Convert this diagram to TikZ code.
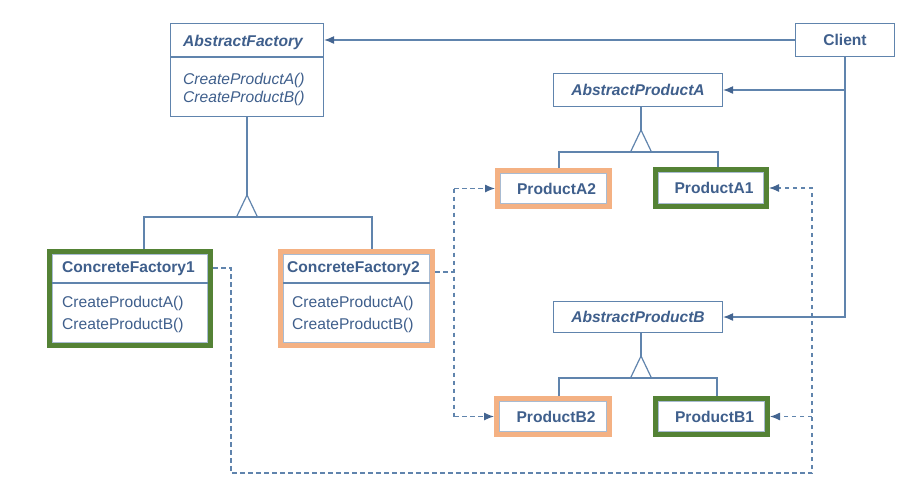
\documentclass[tikz,border=0pt]{standalone}
\usepackage{fontspec}
\setmainfont{Liberation Sans}
\usetikzlibrary{arrows.meta,calc}
\definecolor{lb}{HTML}{6084AD}
\definecolor{tb}{HTML}{3F5F8C}
\definecolor{gr}{HTML}{548235}
\definecolor{og}{HTML}{F4B183}
\newcommand\dfsz{\fontsize{15.6}{18}\selectfont}
\tikzset{
 ln/.style={draw=lb, line width=1.2pt},
 inln/.style={draw=lb!55, line width=0.9pt},
 dsh/.style={draw=lb, line width=1.2pt, dash pattern=on 4.5pt off 3.5pt},
 tip/.style={-{Latex[length=10pt,width=8pt,color=tb!85!lb]}},
 box/.style={draw=lb, line width=1.2pt, inner sep=0pt, text=tb, font=\dfsz\bfseries},
 gbox/.style={draw=gr, line width=5pt, inner sep=0pt, text=tb, font=\dfsz\bfseries},
 obox/.style={draw=og, line width=5pt, inner sep=0pt, text=tb, font=\dfsz\bfseries},
 txt/.style={text=tb, font=\dfsz, inner sep=0pt, anchor=west},
 btxt/.style={text=tb, font=\dfsz\bfseries, inner sep=0pt, anchor=west}
}
\begin{document}
\begin{tikzpicture}[x=1pt,y=-1pt]
\useasboundingbox[fill=white] (0,0) rectangle (923,496);

% AbstractFactory
\node[box, minimum width=153, minimum height=93] (af) at (247,70) {};
\draw[ln] (170.5,57) -- (323.5,57);
\node[btxt] (aft) at (183,42) {\itshape AbstractFactory};
\node[txt] (afa) at (183,80) {\itshape CreateProductA()};
\node[txt] (afb) at (183,98) {\itshape CreateProductB()};

% ConcreteFactory1
\node[gbox, minimum width=161, minimum height=94] (cf1) at (130,298.5) {};
\draw[inln] ([shift={(5.5,5.5)}]cf1.north west) rectangle ([shift={(-5.5,-5.5)}]cf1.south east);
\draw[ln] (52,283) -- (208,283);
\node[btxt] (cf1t) at (62,269) {ConcreteFactory1};
\node[txt] (cf1a) at (62,303) {CreateProductA()};
\node[txt] (cf1b) at (62,325) {CreateProductB()};

% ConcreteFactory2
\node[obox, minimum width=152, minimum height=94] (cf2) at (356.5,298.5) {};
\draw[inln] ([shift={(5.5,5.5)}]cf2.north west) rectangle ([shift={(-5.5,-5.5)}]cf2.south east);
\draw[ln] (283,283) -- (430,283);
\node[btxt] (cf2t) at (287,269) {ConcreteFactory2};
\node[txt] (cf2a) at (292,303) {CreateProductA()};
\node[txt] (cf2b) at (292,325) {CreateProductB()};

% Client
\node[box, minimum width=99, minimum height=33] (cl) at (845,40) {Client};

% Abstract products
\node[box, minimum width=169, minimum height=33, font=\dfsz\bfseries\itshape] (apa) at (638,90) {AbstractProductA};
\node[box, minimum width=169, minimum height=31, font=\dfsz\bfseries\itshape] (apb) at (638,317) {AbstractProductB};

% Products
\node[obox, minimum width=112, minimum height=36] (pa2) at (553.5,188.5) {\hspace*{6pt}ProductA2};
\node[gbox, minimum width=111, minimum height=37] (pa1) at (711,188) {\hspace*{6pt}ProductA1};
\node[obox, minimum width=113, minimum height=36] (pb2) at (553,416.5) {\hspace*{6pt}ProductB2};
\node[gbox, minimum width=112, minimum height=36] (pb1) at (711.5,416.5) {\hspace*{6pt}ProductB1};
\foreach \n in {pa2,pa1,pb2,pb1}{
  \draw[inln] ([shift={(5.5,5.5)}]\n.north west) rectangle ([shift={(-5.5,-5.5)}]\n.south east);
}

% Inheritance: AbstractFactory
\coordinate (afapex) at (247,195);
\coordinate (afbar) at (247,217);
\draw[ln] (af.south) -- (afapex);
\draw[ln, fill=white] (afapex) -- ++(-10.5,22) -- ++(21,0) -- cycle;
\draw[ln] ([xshift=97pt]cf1.north west) |- (afbar) -| ([xshift=94pt]cf2.north west);

% Inheritance: AbstractProductA
\coordinate (apaapex) at (641,130);
\coordinate (apabar) at (641,152);
\draw[ln] (apaapex |- apa.south) -- (apaapex);
\draw[ln, fill=white] (apaapex) -- ++(-10.5,22) -- ++(21,0) -- cycle;
\draw[ln] ([xshift=5.5pt]pa2.north) |- (apabar) -| ([xshift=7pt]pa1.north);

% Inheritance: AbstractProductB
\coordinate (apbapex) at (641,356);
\coordinate (apbbar) at (641,378);
\draw[ln] (apbapex |- apb.south) -- (apbapex);
\draw[ln, fill=white] (apbapex) -- ++(-10.5,22) -- ++(21,0) -- cycle;
\draw[ln] ([xshift=6pt]pb2.north) |- (apbbar) -| ([xshift=5.5pt]pb1.north);

% Client associations
\draw[ln, tip] (cl.west) -- (cl.west -| af.east);
\draw[ln, tip] (cl.south) |- (apb.east);
\draw[ln, tip] (cl.south |- apa.east) -- (apa.east);

% Dashed creation lines
\coordinate (cf1o) at ([yshift=30.5pt]cf1.east);
\coordinate (dx1) at (231,473);
\coordinate (dx2) at (812,473);
\draw[dsh, tip] (cf1o) -| (dx1) -- (dx2) |- (pa1.east);
\draw[dsh, tip] (dx2 |- pb1.east) -- (pb1.east);

\coordinate (cf2o) at ([yshift=26.5pt]cf2.east);
\coordinate (vx) at (454,0);
\draw[dsh] (cf2o) -- (cf2o -| vx);
\draw[dsh] (vx |- pa2.west) -- (vx |- pb2.west);
\draw[dsh, tip] (vx |- pa2.west) -- (pa2.west);
\draw[dsh, tip] (vx |- pb2.west) -- (pb2.west);
\end{tikzpicture}
\end{document}
